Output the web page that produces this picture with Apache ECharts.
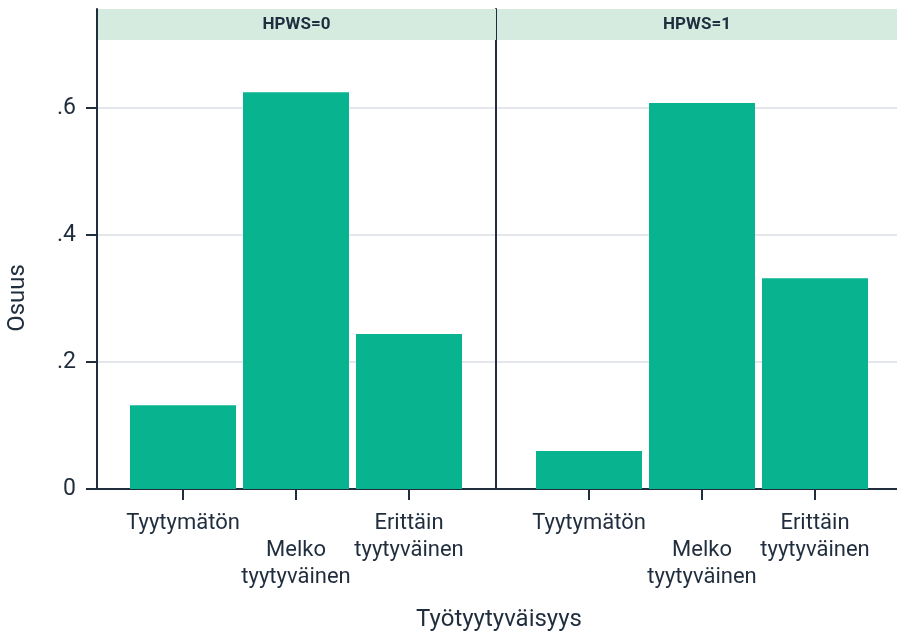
<!DOCTYPE html>
<html>
<head>
<meta charset="utf-8">
<script src="https://cdn.jsdelivr.net/npm/echarts@6/dist/echarts.min.js"></script>
<style>
html,body{margin:0;padding:0;background:#fff;}
#chart{width:897px;height:638px;}
</style>
</head>
<body>
<div id="chart"></div>
<script>
var categories = ['Tyytymätön', 'Melko tyytyväinen', 'Erittäin tyytyväinen'];
var categoryLabels = ['Tyytymätön', ' \nMelko\ntyytyväinen', 'Erittäin\ntyytyväinen'];
var panels = ['HPWS=0', 'HPWS=1'];
var valuesHPWS0 = [0.132, 0.625, 0.244];
var valuesHPWS1 = [0.060, 0.608, 0.332];
var yTicks = [0, 0.2, 0.4, 0.6];
var yTickLabels = ['0', '.2', '.4', '.6'];
var xTitle = 'Työtyytyväisyys';
var yTitle = 'Osuus';

var TEXT = '#1f2d3d';
var BAR = '#08b48f';
var STRIP = '#d5ebe0';
var FONT = 'Roboto';

function toPoints(vals){ return vals.map(function(v,i){ return [i+1, v]; }); }

var chart = echarts.init(document.getElementById('chart'), null, {renderer:'canvas'});

function xAxis(idx, min, max){
  return {
    type:'value', gridIndex: idx, min: min, max: max,
    axisLine:{show:true, lineStyle:{color:TEXT, width:2}},
    axisTick:{show:true, customValues:[1,2,3], length:11, lineStyle:{color:TEXT, width:2}},
    axisLabel:{show:true, customValues:[1,2,3], margin:21,
      color:TEXT, fontFamily:FONT, fontSize:22, lineHeight:27, verticalAlign:'top',
      formatter:function(v){ return categoryLabels[Math.round(v)-1] || ''; }},
    splitLine:{show:false}
  };
}
function yAxis(idx, labels){
  return {
    type:'value', gridIndex: idx, min:0, max:0.756, interval:0.2,
    axisLine:{show:true, onZero:false, lineStyle:{color:TEXT, width:2}},
    axisTick:{show:labels, customValues:yTicks, length:11, lineStyle:{color:TEXT, width:2}},
    axisLabel:{show:labels, customValues:yTicks, margin:21, color:TEXT, fontFamily:FONT, fontSize:23,
      formatter:function(v){ var i = yTicks.indexOf(Math.round(v*10)/10); return i>=0 ? yTickLabels[i] : ''; }},
    splitLine:{show:true, lineStyle:{color:'#e3e7eb', width:2}}
  };
}

chart.setOption({
  animation:false,
  backgroundColor:'#fff',
  grid:[
    {left:97, right:401, top:9, bottom:149},
    {left:496, right:0, top:9, bottom:149}
  ],
  xAxis:[ xAxis(0, 1-86/113, 1+313/113), xAxis(1, 1-93/113, 1+308/113) ],
  yAxis:[ yAxis(0, true), yAxis(1, false) ],
  series:[
    {type:'bar', name:panels[0], xAxisIndex:0, yAxisIndex:0, barWidth:106, itemStyle:{color:BAR}, data:toPoints(valuesHPWS0), z:3},
    {type:'bar', name:panels[1], xAxisIndex:1, yAxisIndex:1, barWidth:106, itemStyle:{color:BAR}, data:toPoints(valuesHPWS1), z:3}
  ],
  graphic:[
    {type:'rect', z:10, shape:{x:98, y:9, width:398, height:31}, style:{fill:STRIP}},
    {type:'rect', z:10, shape:{x:497, y:9, width:400, height:31}, style:{fill:STRIP}},
    {type:'text', z:11, x:296.5, y:25, style:{text:panels[0], fill:TEXT, font:'bold 17px Roboto', textAlign:'center', textVerticalAlign:'middle'}},
    {type:'text', z:11, x:697, y:25, style:{text:panels[1], fill:TEXT, font:'bold 17px Roboto', textAlign:'center', textVerticalAlign:'middle'}},
    {type:'text', z:11, x:499, y:620, style:{text:xTitle, fill:TEXT, font:'24px Roboto', textAlign:'center', textVerticalAlign:'middle'}},
    {type:'text', z:11, x:18, y:298, rotation:Math.PI/2, style:{text:yTitle, fill:TEXT, font:'24px Roboto', textAlign:'center', textVerticalAlign:'middle'}}
  ]
});
</script>
</body>
</html>
